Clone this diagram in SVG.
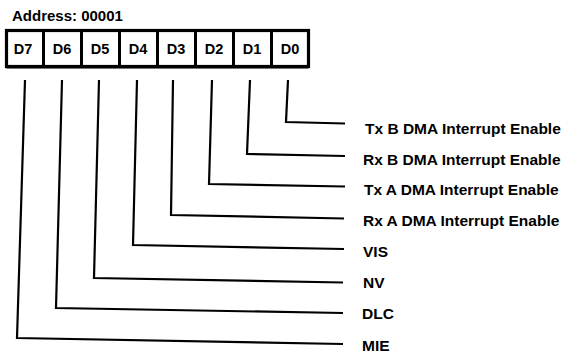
<svg xmlns="http://www.w3.org/2000/svg" width="565" height="358" viewBox="0 0 565 358">
<style>
  text { font-family: "Liberation Sans", Arial, Helvetica, sans-serif; font-weight: bold; fill: #000; }
  .lbl { font-size: 15.5px; }
  .cell { font-size: 14.5px; text-anchor: middle; }
  .frame { fill: #fff; stroke: #000; stroke-width: 3.2; }
  .div { stroke: #000; stroke-width: 3; }
  .conn { fill: none; stroke: #000; stroke-width: 2.2; stroke-linejoin: miter; }
</style>
<rect width="565" height="358" fill="#fff"/>
<text id="address" x="12" y="20.5" style="font-size:15px">Address: 00001</text>
<g id="register">
  <rect class="frame" x="6.5" y="30.5" width="302" height="36"/>
  <line class="div" x1="6.5" y1="66.8" x2="308.5" y2="66.8" style="stroke-width:3.6"/>
  <line class="div" x1="43.5" y1="30.5" x2="43.5" y2="66.5"/>
  <line class="div" x1="81.5" y1="30.5" x2="81.5" y2="66.5"/>
  <line class="div" x1="119.5" y1="30.5" x2="119.5" y2="66.5"/>
  <line class="div" x1="157.5" y1="30.5" x2="157.5" y2="66.5"/>
  <line class="div" x1="195.5" y1="30.5" x2="195.5" y2="66.5"/>
  <line class="div" x1="233.5" y1="30.5" x2="233.5" y2="66.5"/>
  <line class="div" x1="271.5" y1="30.5" x2="271.5" y2="66.5"/>
  <text class="cell" x="23" y="53.5">D7</text>
  <text class="cell" x="62" y="53.5">D6</text>
  <text class="cell" x="100" y="53.5">D5</text>
  <text class="cell" x="138" y="53.5">D4</text>
  <text class="cell" x="176" y="53.5">D3</text>
  <text class="cell" x="214" y="53.5">D2</text>
  <text class="cell" x="252" y="53.5">D1</text>
  <text class="cell" x="290" y="53.5">D0</text>
</g>
<g id="connectors">
  <polyline class="conn" points="288,80 286,122 345,123.5"/>
  <polyline class="conn" points="250,80 247,154 345,156"/>
  <polyline class="conn" points="212,80 209,184 345,186.5"/>
  <polyline class="conn" points="173,80 171,215 344,218.5"/>
  <polyline class="conn" points="137,80 133,245 344,249"/>
  <polyline class="conn" points="99,80 94,278 343,282.5"/>
  <polyline class="conn" points="62,80 56,308 343,313"/>
  <polyline class="conn" points="25,80 17,338 343,344"/>
</g>
<g id="label-d0"><text class="lbl" x="365" y="133.5">Tx B DMA Interrupt Enable</text></g>
<g id="label-d1"><text class="lbl" x="363" y="164.5">Rx B DMA Interrupt Enable</text></g>
<g id="label-d2"><text class="lbl" x="364" y="194.5">Tx A DMA Interrupt Enable</text></g>
<g id="label-d3"><text class="lbl" x="363" y="225.5">Rx A DMA Interrupt Enable</text></g>
<g id="label-d4"><text class="lbl" x="363" y="256.5">VIS</text></g>
<g id="label-d5"><text class="lbl" x="363" y="287.5">NV</text></g>
<g id="label-d6"><text class="lbl" x="362" y="318.5">DLC</text></g>
<g id="label-d7"><text class="lbl" x="362" y="350.5">MIE</text></g>
</svg>
